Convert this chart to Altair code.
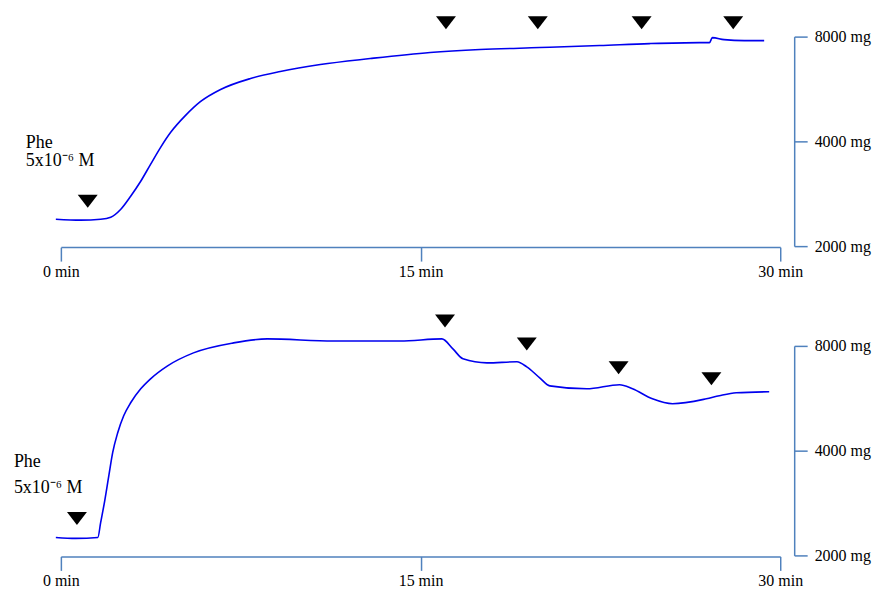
import altair as alt
import pandas as pd

# ---- data (time in minutes, tension in mg) ----
top_t = [-0.21, 0.83, 1.66, 2.08, 2.50, 2.91, 3.33, 3.74, 4.16, 4.58, 5.20, 5.83, 6.66,
         7.91, 9.15, 10.82, 12.90, 15.40, 17.48, 19.97, 22.47, 24.55, 26.63, 27.05,
         27.17, 27.66, 28.50, 29.33]
top_v = [2390, 2375, 2390, 2422, 2553, 2782, 3072, 3436, 3845, 4246, 4749, 5209, 5638,
         6063, 6350, 6651, 6918, 7200, 7343, 7440, 7540, 7639, 7690, 7690,
         7946, 7842, 7790, 7790]

bot_t = [-0.21, 0.62, 1.54, 1.66, 1.83, 2.00, 2.16, 2.37, 2.62, 2.91, 3.33, 3.74, 4.45,
         5.53, 7.20, 8.61, 11.36, 14.15, 15.89, 16.35, 16.77, 17.77, 19.02, 19.43,
         19.97, 20.39, 21.93, 23.30, 23.84, 24.67, 25.51, 26.92, 27.46, 28.17, 29.54]
bot_v = [2252, 2238, 2252, 2487, 2876, 3392, 3948, 4504, 5040, 5491, 6022, 6434, 7011,
         7639, 8160, 8378, 8267, 8267, 8378, 7842, 7343, 7150, 7200, 6964,
         6476, 6142, 6022, 6185, 6022, 5638, 5456, 5638, 5752, 5866, 5906]

top_mark_t = [1.12, 16.06, 19.89, 24.22, 28.04]
top_mark_v = [2692, 8774, 8774, 8774, 8774]
bot_mark_t = [0.67, 16.02, 19.43, 23.26, 27.13]
bot_mark_v = [2553, 9436, 8106, 6918, 6434]

label_lines = ["Phe", "5x10\u207b\u2076  M"]
top_label_t = [-1.46, -1.46]
top_label_v = [3948, 3505]
bot_label_t = [-1.96, -1.96]
bot_label_v = [3720, 3133]

x_ticks = [0, 15, 30]
y_ticks = [2000, 4000, 8000]

AXIS_COLOR = "#4f81bd"
FONT = "Liberation Serif"

xscale = alt.Scale(domain=[0, 30], nice=False, zero=False)
yscale = alt.Scale(type="log", base=2, domain=[2000, 8000], nice=False, zero=False)

xaxis = alt.Axis(values=x_ticks, labelExpr="datum.value + ' min'", title=None, grid=False,
                 tickSize=14, labelPadding=2, offset=1, labelFlush=False)
yaxis = alt.Axis(values=y_ticks, labelExpr="datum.value + ' mg'", title=None, grid=False,
                 orient="right", tickSize=13, labelPadding=7, offset=14)


def panel(ts, vs, mt, mv, lt, lv):
    line_df = pd.DataFrame({"t": ts, "v": vs})
    mark_df = pd.DataFrame({"t": mt, "v": mv})
    text_df = pd.DataFrame({"t": lt, "v": lv, "txt": label_lines})
    line = alt.Chart(line_df).mark_line(color="#0000ee", strokeWidth=1.6, interpolate="monotone").encode(
        x=alt.X("t:Q", scale=xscale, axis=xaxis),
        y=alt.Y("v:Q", scale=yscale, axis=yaxis),
    )
    tri = alt.Chart(mark_df).mark_point(
        shape="M-1,-0.65L1,-0.65L0,0.65Z", size=400, filled=True, color="black",
        opacity=1, strokeWidth=0,
    ).encode(x=alt.X("t:Q", scale=xscale), y=alt.Y("v:Q", scale=yscale))
    txt = alt.Chart(text_df).mark_text(
        align="left", baseline="middle", font=FONT, fontSize=18, color="black",
    ).encode(x=alt.X("t:Q", scale=xscale), y=alt.Y("v:Q", scale=yscale), text="txt:N")
    return alt.layer(line, tri, txt).properties(width=721, height=210)


top = panel(top_t, top_v, top_mark_t, top_mark_v, top_label_t, top_label_v)
bot = panel(bot_t, bot_v, bot_mark_t, bot_mark_v, bot_label_t, bot_label_v)

chart = alt.vconcat(top, bot, spacing=100, bounds="flush").properties(
    padding={"left": 5, "top": 7, "right": 5, "bottom": 5}
).configure_view(stroke=None).configure_axis(
    domainColor=AXIS_COLOR, tickColor=AXIS_COLOR, domainWidth=1.5, tickWidth=1.5,
    labelFont=FONT, labelFontSize=16, labelColor="black",
)

chart.save("out.html", embed_options={"renderer": "svg", "actions": False})
